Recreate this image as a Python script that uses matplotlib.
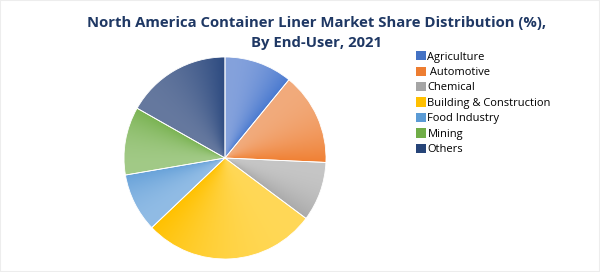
import numpy as np
import matplotlib.pyplot as plt
from matplotlib.colors import to_rgb
from matplotlib.patches import Patch, Rectangle

labels = ["Agriculture", " Automotive", "Chemical", "Building & Construction",
          "Food Industry", "Mining", "Others"]
shares = [10.9, 14.8, 9.5, 27.7, 9.4, 10.9, 16.8]

# legend uses the base colours; slices shade from a light tint to a deeper tone
base_colors = ["#4472C4", "#ED7D31", "#A5A5A5", "#FFC000", "#5B9BD5", "#70AD47", "#264478"]
light_colors = ["#85A2DC", "#F2AB7C", "#C6C6C6", "#FFD857", "#91BCE5", "#A2CA87", "#66799F"]
deep_colors = ["#4A7AD0", "#F08033", "#AAAAAA", "#FFC100", "#68A2D9", "#7AB352", "#2C4A80"]

plt.rcParams["font.family"] = ["Open Sans", "DejaVu Sans"]

fig = plt.figure(figsize=(6, 2.72), dpi=100)
fig.patches.append(Rectangle((0, 0), 1, 1, transform=fig.transFigure, fill=False,
                             edgecolor="#EDEDED", linewidth=1.5))

# pie centre at (225, 158) px, radius ~101 px
ax = fig.add_axes([(225 - 101) / 600, 1 - (158 + 101) / 272, 202 / 600, 202 / 272])
wedges, _ = ax.pie(shares, colors=light_colors, startangle=90, counterclock=False,
                   wedgeprops=dict(edgecolor="white", linewidth=0.6))

# gradient fill per slice: light where the slice starts, deeper towards its clockwise end
n = 400
xs = np.linspace(-1, 1, n)
X, Y = np.meshgrid(xs, xs)
ang = np.degrees(np.arctan2(Y, X))
for w, lc, dc in zip(wedges, light_colors, deep_colors):
    t1, t2 = w.theta1, w.theta2
    a = (ang - t1) % 360 + t1
    t = np.clip((t2 - a) / (t2 - t1), 0, 1) ** 2.2
    img = np.array(to_rgb(lc))[None, None, :] * (1 - t[..., None]) + \
        np.array(to_rgb(dc))[None, None, :] * t[..., None]
    im = ax.imshow(img, extent=(-1, 1, -1, 1), origin="lower", zorder=1.5,
                   interpolation="bilinear")
    im.set_clip_path(w)
    w.set_zorder(2)
    w.set_facecolor("none")

ax.set_xlim(-1, 1)
ax.set_ylim(-1, 1)
ax.set_aspect("equal")
ax.axis("off")

fig.text(0.527, 0.94, "North America Container Liner Market Share Distribution (%),\nBy End-User, 2021",
         ha="center", va="top", fontsize=10.7, fontweight="bold", color="#1F3864",
         linespacing=1.55)

handles = [Patch(facecolor=c, edgecolor="none") for c in base_colors]
fig.legend(handles, labels, loc="upper left", bbox_to_anchor=(0.693, 0.812),
           frameon=False, fontsize=8, handlelength=0.9, handleheight=0.9,
           handletextpad=0.15, labelspacing=0.36, borderaxespad=0, borderpad=0)

fig.savefig("out.png", dpi=100)
